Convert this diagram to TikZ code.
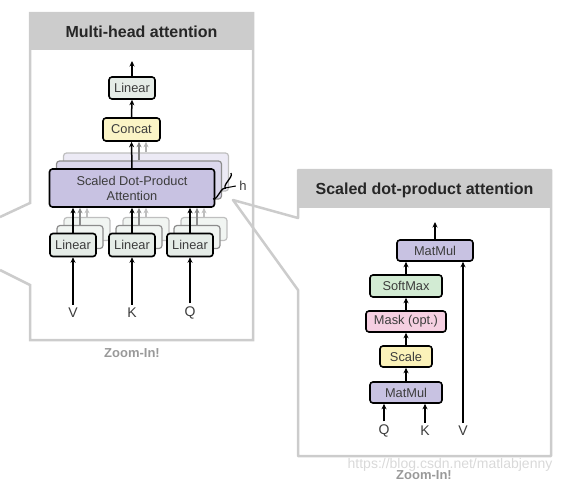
\documentclass[tikz,border=0pt]{standalone}
\usepackage{fontspec}
\setmainfont{Liberation Sans}
\usepackage{xcolor}
\usetikzlibrary{arrows.meta, decorations.pathreplacing}

\definecolor{panelgray}{HTML}{CCCCCC}
\definecolor{attfill}{HTML}{C8C2E2}
\definecolor{linfill}{HTML}{E5ECE7}
\definecolor{catfill}{HTML}{FBF4C6}
\definecolor{smfill}{HTML}{D2EBD3}
\definecolor{maskfill}{HTML}{F5CFE1}
\definecolor{scalefill}{HTML}{FBF2B9}
\definecolor{txtgray}{HTML}{3C3C3C}

\begin{document}
\begin{tikzpicture}[x=1pt, y=-1pt, >={Stealth[length=5.5pt, width=5pt]}]
  \useasboundingbox (0,0) rectangle (575,485);

  % Set the styles
  \tikzset{
    opbox/.style={draw, line width=1.6pt, rounded corners=3pt, inner sep=0pt,
      minimum height=22pt, text=txtgray, font=\fontsize{12.8}{14}\selectfont},
    ghostbox/.style={draw=#1, line width=1.2pt, rounded corners=3pt, inner sep=0pt},
    flow/.style={->, line width=1.5pt},
    ghostflow/.style={->, line width=1.2pt, draw=#1},
    inlabel/.style={font=\fontsize{14}{15}\selectfont, text=txtgray},
    panel/.style={draw=panelgray, line width=2.5pt},
    paneltitle/.style={font=\fontsize{16}{18}\bfseries\selectfont, text=black!85},
    zoomlabel/.style={font=\fontsize{13}{14}\bfseries\selectfont, text=black!40}
  }

  % Draw the two panels
  \fill[panelgray] (30,13) rectangle (253,50);
  \draw[panel] (0,217) -- (30,203) -- (30,13) -- (253,13) -- (253,340) -- (30,340) -- (30,285) -- (0,270);
  \fill[panelgray] (298,170) rectangle (551,208);
  \draw[panel, line join=round] (233,200) -- (298,218) -- (298,170) -- (551,170) -- (551,456) -- (298,456) -- (298,290) -- cycle;
  \node[paneltitle] (mhtitle) at (141.5,32) {Multi-head attention};
  \node[paneltitle] (sdtitle) at (424.5,190) {Scaled dot-product attention};

  % Multi-head attention: the stacked heads
  \foreach \k/\edge/\shade in {2/black!25/attfill!35, 1/black!45/attfill!65}{
    \node[ghostbox=\edge, fill=\shade, minimum width=165pt, minimum height=38pt] (sdpa\k) at (132+7*\k, 188-8*\k) {};
  }
  \foreach \name/\x in {V/73, K/132, Q/190}{
    \foreach \k/\edge in {2/black!25, 1/black!45}{
      \node[ghostbox=\edge, fill=linfill!55, minimum width=46pt, minimum height=23pt] (lin\name\k) at (\x+7*\k, 245-8*\k) {};
    }
  }

  % Multi-head attention: the front blocks
  \node[opbox, fill=linfill, minimum width=46pt] (linout) at (132,88) {Linear};
  \node[opbox, fill=catfill, minimum width=57pt, minimum height=23pt] (concat) at (131.5,129.5) {Concat};
  \node[opbox, fill=attfill, minimum width=165pt, minimum height=38pt, align=center,
    font=\fontsize{12.8}{15}\selectfont] (sdpa) at (132,188) {Scaled Dot-Product\\Attention};
  \foreach \name/\x in {V/73, K/132, Q/190}{
    \node[opbox, fill=linfill, minimum width=46pt, minimum height=23pt] (lin\name) at (\x,245) {Linear};
    \node[inlabel] (in\name) at (\x,313) {\name};
  }
  \coordinate (mhout) at (132,61);

  % Multi-head attention: connections
  \draw[flow] (linout.north) -- (mhout);
  \draw[flow] (concat.north) -- (linout.south);
  \draw[flow] (sdpa.north) -- (concat.south);
  \draw[ghostflow=black!50] (sdpa1.north) -- (sdpa1.north |- concat.south);
  \draw[ghostflow=black!30] (sdpa2.north) -- (sdpa2.north |- concat.south);
  \foreach \name in {V,K,Q}{
    \draw[flow] (in\name.north) -- (lin\name.south);
    \draw[flow] (lin\name.north) -- (lin\name.north |- sdpa.south);
    \draw[ghostflow=black!45] (lin\name1.north) -- (lin\name1.north |- sdpa.south);
    \draw[ghostflow=black!25] (lin\name2.north) -- (lin\name2.north |- sdpa.south);
  }

  % Number of heads
  \draw[line width=1.3pt, decorate, decoration={brace, amplitude=4pt}] (231,173) -- (213,199);
  \coordinate (htip) at (225,188);
  \node[font=\fontsize{13}{14}\selectfont, text=txtgray] (heads) at (243,186) {h};
  \draw[line width=1pt] (htip) -- (heads.west);

  % Scaled dot-product attention
  \node[opbox, fill=attfill, minimum width=76pt, minimum height=21pt] (attmm) at (435,250.5) {MatMul};
  \node[opbox, fill=smfill, minimum width=72pt] (softmax) at (406,286) {SoftMax};
  \node[opbox, fill=maskfill, minimum width=80pt, minimum height=21pt] (mask) at (406,321.5) {Mask (opt.)};
  \node[opbox, fill=scalefill, minimum width=52pt, minimum height=21pt] (scale) at (406,356.5) {Scale};
  \node[opbox, fill=attfill, minimum width=72pt, minimum height=21pt] (qkmm) at (406,392.5) {MatMul};
  \foreach \name/\x in {Q/384, K/425, V/463}{
    \node[inlabel] (sd\name) at (\x,431) {\name};
  }
  \coordinate (sdout) at (435,222);

  \draw[flow] (attmm.north) -- (sdout);
  \draw[flow] (softmax.north) -- (softmax.north |- attmm.south);
  \draw[flow] (mask) -- (softmax);
  \draw[flow] (scale) -- (mask);
  \draw[flow] (qkmm) -- (scale);
  \draw[flow] (sdQ.north) -- (sdQ.north |- qkmm.south);
  \draw[flow] (sdK.north) -- (sdK.north |- qkmm.south);
  \draw[flow] (sdV.north) -- (sdV.north |- attmm.south);

  % Captions
  \node[text=black!15, font=\fontsize{14}{16}\selectfont] (mark) at (450,465) {https://blog.csdn.net/matlabjenny};
  \node[zoomlabel] (mhzoom) at (132,353) {Zoom-In!};
  \node[zoomlabel] (sdzoom) at (424,475) {Zoom-In!};
\end{tikzpicture}
\end{document}
